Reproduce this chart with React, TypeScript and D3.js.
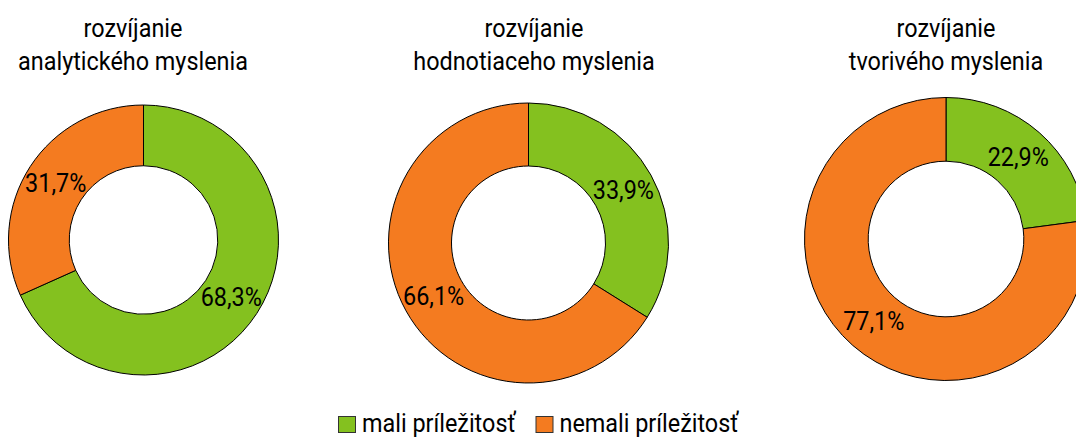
import React, { useEffect, useRef } from "react";
import * as d3 from "d3";

const titlesLine1 = ["rozvíjanie", "rozvíjanie", "rozvíjanie"];
const titlesLine2 = ["analytického myslenia", "hodnotiaceho myslenia", "tvorivého myslenia"];
const seriesNames = ["mali príležitosť", "nemali príležitosť"];
const maliValues = [68.3, 33.9, 22.9];
const nemaliValues = [31.7, 66.1, 77.1];

const COLORS = ["#84C11F", "#F47B20"];
const W = 1076;
const H = 437;
const FONT = "Roboto, 'DejaVu Sans', sans-serif";
const SX = 0.9;
const FS = 26;

const layout = [
  { cx: 143.5, cy: 240, r: 135, tx: 133 },
  { cx: 528.5, cy: 243, r: 140, tx: 534 },
  { cx: 946, cy: 239, r: 141.5, tx: 946 },
];

export default function App() {
  const ref = useRef<SVGSVGElement>(null);

  useEffect(() => {
    const svg = d3.select(ref.current);
    svg.selectAll("*").remove();

    const pie = d3
      .pie<number>()
      .sort(null)
      .value((d) => d);

    const fmt = (v: number) => v.toFixed(1).replace(".", ",") + "%";

    const addText = (
      g: d3.Selection<any, any, any, any>,
      x: number,
      y: number,
      txt: string,
      anchor: string,
      size: number
    ) => {
      g.append("text")
        .attr("transform", `translate(${x},${y}) scale(${SX},1)`)
        .attr("text-anchor", anchor)
        .attr("font-family", FONT)
        .attr("font-size", size)
        .attr("fill", "#000")
        .text(txt);
    };

    layout.forEach((L, i) => {
      const data = [maliValues[i], nemaliValues[i]];
      const arcs = pie(data);
      const arc = d3
        .arc<d3.PieArcDatum<number>>()
        .innerRadius(L.r * 0.55)
        .outerRadius(L.r);
      const g = svg.append("g").attr("transform", `translate(${L.cx},${L.cy})`);
      g.selectAll("path")
        .data(arcs)
        .join("path")
        .attr("d", arc as any)
        .attr("fill", (_d, j) => COLORS[j])
        .attr("stroke", "#000")
        .attr("stroke-width", 1);
      arcs.forEach((a) => {
        const [x, y] = arc.centroid(a);
        addText(g, x, y + 9, fmt(a.data), "middle", FS);
      });

      addText(svg, L.tx, 37, titlesLine1[i], "middle", FS);
      addText(svg, L.tx, 70, titlesLine2[i], "middle", FS);
    });

    // legend
    const legendX = [338.5, 536];
    seriesNames.forEach((name, j) => {
      svg
        .append("rect")
        .attr("x", legendX[j])
        .attr("y", 416.5)
        .attr("width", 17)
        .attr("height", 16)
        .attr("fill", COLORS[j])
        .attr("stroke", "#333")
        .attr("stroke-width", 1);
      addText(svg, legendX[j] + 23.5, 432, name, "start", FS);
    });
  }, []);

  return (
    <svg
      ref={ref}
      width={W}
      height={H}
      style={{ position: "absolute", left: 0, top: 0, background: "#fff" }}
    />
  );
}
